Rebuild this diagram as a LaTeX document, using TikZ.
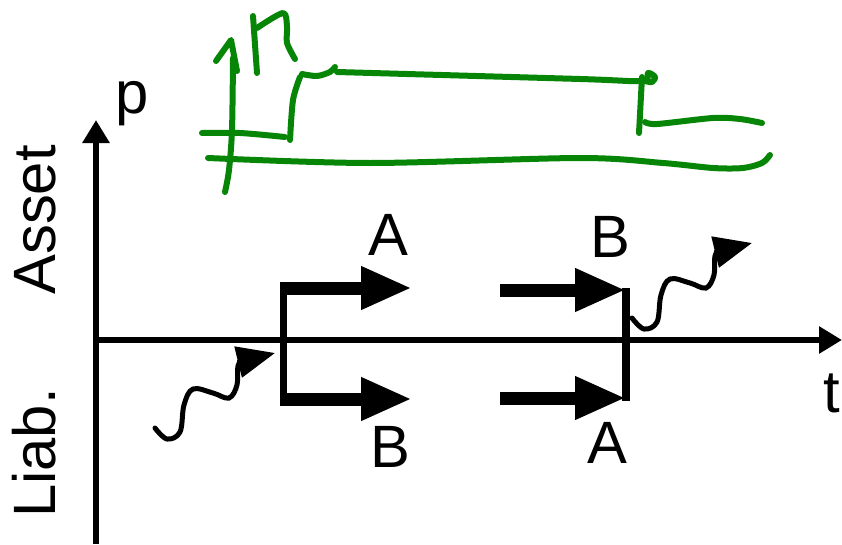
\documentclass[tikz,border=0pt]{standalone}
\usepackage{fontspec}
\setmainfont{Liberation Sans}
\definecolor{pengreen}{HTML}{078507}
\usetikzlibrary{arrows.meta}

\begin{document}
\begin{tikzpicture}[
  axis/.style={line width=0.13cm,-{Triangle[length=0.46cm,width=0.52cm]}},
  leg/.style={line width=0.26cm,-{Triangle[length=1.02cm,width=0.8cm]}},
  bracket/.style={line width=0.15cm},
  wave/.style={line width=0.1cm,line cap=round,-{Triangle[length=0.76cm,width=0.62cm]}},
  pen/.style={pengreen,line width=0.12cm,line cap=round,line join=round},
  lbl/.style={font={\fontsize{34}{40}\selectfont},inner sep=0pt}
]
  \useasboundingbox (-1.92,-4.08) rectangle (14.92,6.8);

  % Axes
  \coordinate (pFoot) at (0,-4.08);
  \coordinate (pTop) at (0,4.4);
  \coordinate (origin) at (0,0);
  \coordinate (tEnd) at (14.92,0);
  \draw[axis] (pFoot) -- (pTop);
  \draw[axis] (origin) -- (tEnd);
  \node[lbl,anchor=base] (pLabel) at (0.72,4.52) {p};
  \node[lbl,anchor=base] (tLabel) at (14.72,-1.44) {t};
  \node[lbl,anchor=base,rotate=90] (assetLabel) at (-0.82,2.4) {Asset};
  \node[lbl,anchor=base,rotate=90] (liabLabel) at (-0.82,-2.26) {Liab.};

  % Opening legs
  \coordinate (openTop) at (3.75,1.04);
  \coordinate (openBot) at (3.75,-1.18);
  \coordinate (openAsset) at (6.32,1.04);
  \coordinate (openLiab) at (6.32,-1.18);
  \draw[bracket] (openTop) -- (openBot);
  \draw[leg] ([xshift=-0.075cm]openTop) -- (openAsset);
  \draw[leg] ([xshift=-0.075cm]openBot) -- (openLiab);
  \node[lbl,anchor=base] (openA) at (5.84,1.7) {A};
  \node[lbl,anchor=base] (openB) at (5.88,-2.54) {B};

  % Closing legs
  \coordinate (closeTop) at (10.6,1.0);
  \coordinate (closeBot) at (10.6,-1.16);
  \coordinate (closeAsset) at (8.08,1.0);
  \coordinate (closeLiab) at (8.08,-1.16);
  \draw[bracket] ([yshift=0.05cm]closeTop) -- ([yshift=-0.05cm]closeBot);
  \draw[leg] (closeAsset) -- (closeTop);
  \draw[leg] (closeLiab) -- (closeBot);
  \node[lbl,anchor=base] (closeB) at (10.28,1.66) {B};
  \node[lbl,anchor=base] (closeA) at (10.22,-2.46) {A};

  % Wiggly in / out
  \coordinate (sigIn) at (1.18,-1.76);
  \coordinate (sigOut) at (10.72,0.44);
  \foreach \s in {sigIn,sigOut}
    \draw[wave,shift={(\s)}] plot[smooth,tension=0.6] coordinates
      {(0,0) (0.24,-0.22) (0.5,-0.08) (0.58,0.46) (0.76,0.78) (1.16,0.7)
       (1.48,0.6) (1.64,0.86) (1.66,1.24) (1.8,1.34) (2.4,1.5)};

  % Green sketch
  \draw[pen] plot[smooth] coordinates {(2.74,5.64) (2.72,4.2) (2.66,3.4) (2.58,2.96)};
  \draw[pen] (2.4,5.58) -- (2.7,6.0) -- (2.82,5.38);
  \draw[pen] (3.22,5.34) -- (3.14,6.48);
  \draw[pen] plot[smooth] coordinates {(3.22,6.24) (3.74,6.54) (3.82,6.26) (3.82,5.94) (3.98,5.62)};
  \draw[pen] plot[smooth] coordinates {(2.12,4.14) (2.88,4.14) (3.78,4.06)};
  \draw[pen] plot[smooth] coordinates {(4.08,5.26) (3.94,4.8) (3.88,4.0)};
  \draw[pen] plot[smooth] coordinates {(4.12,5.32) (4.42,5.28) (4.68,5.36) (4.78,5.46)};
  \draw[pen] plot[smooth] coordinates {(4.82,5.36) (9.68,5.22) (10.92,5.18) (11.04,5.34) (11.18,5.26) (11.12,5.16) (10.98,5.18)};
  \draw[pen] (10.92,5.26) -- (10.86,4.14);
  \draw[pen] plot[smooth] coordinates {(10.98,4.36) (11.22,4.32) (12.34,4.44) (12.88,4.42) (13.32,4.34)};
  \draw[pen] plot[smooth] coordinates {(2.24,3.64) (5.48,3.54) (9.68,3.64) (11.34,3.54) (12.34,3.44) (12.94,3.44) (13.32,3.54) (13.48,3.7)};
\end{tikzpicture}
\end{document}
